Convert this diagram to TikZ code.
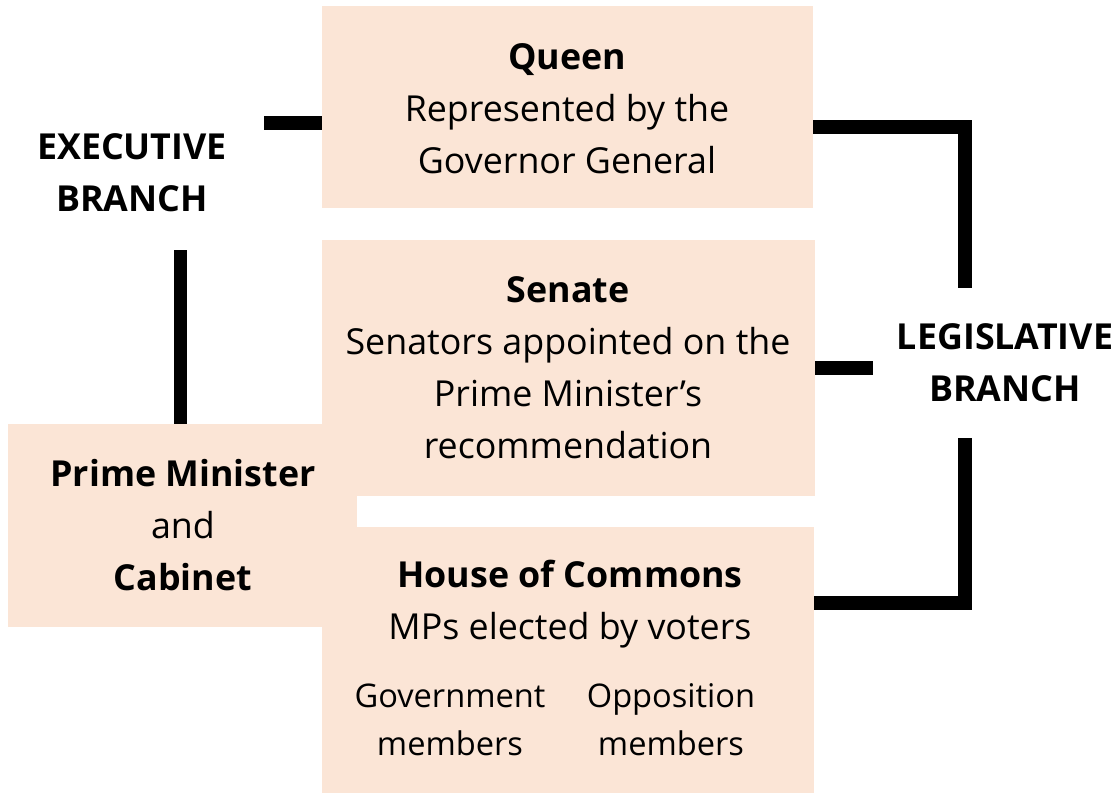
\documentclass[tikz,border=0pt]{standalone}
\usepackage{fontspec}
\setmainfont{Open Sans}
\usetikzlibrary{positioning,calc}
\definecolor{peach}{HTML}{FBE5D6}

\begin{document}
\begin{tikzpicture}[x=1pt,y=-1pt,
    panel/.style={shape=rectangle,fill=peach,draw=none,inner sep=0pt},
    txt/.style={align=center,anchor=base,inner sep=0pt,font=\fontsize{35.8}{52}\selectfont},
    small/.style={txt,font=\fontsize{32.6}{48}\selectfont},
    bar/.style={line width=13.5pt,line join=miter}]
  \useasboundingbox (0,0) rectangle (1120,795);

  \node[panel,minimum width=491,minimum height=202] (queen)  at (567.5,107) {};
  \node[panel,minimum width=493,minimum height=256] (senate) at (568.5,368) {};
  \node[panel,minimum width=492,minimum height=266] (house)  at (568,660)   {};
  \node[panel,minimum width=349,minimum height=203] (pm)     at (182.5,525.5) {};

  \node[txt] (queentxt)  at (567,173) {\textbf{Queen}\\Represented by the\\Governor General};
  \node[txt] (senatetxt) at (568,458) {\textbf{Senate}\\Senators appointed on the\\Prime Minister’s\\recommendation};
  \node[txt] (pmtxt)     at (183,590) {\textbf{Prime Minister}\\and\\\textbf{Cabinet}};
  \node[txt] (housetxt)  at (570,639) {\textbf{House of Commons}\\MPs elected by voters};
  \node[small] (gov) at (450,755) {Government\\members};
  \node[small] (opp) at (671,755) {Opposition\\members};
  \node[txt] (exec) at (132,211)  {\textbf{EXECUTIVE}\\\textbf{BRANCH}};
  \node[txt] (leg)  at (1005,401) {\textbf{LEGISLATIVE}\\\textbf{BRANCH}};

  \coordinate (execend) at (264,123);
  \coordinate (exectop) at (180.5,250);
  \coordinate (legtop)  at (965,288);
  \coordinate (legbot)  at (965,438);
  \coordinate (legmid)  at (873,368);

  \draw[bar] (execend) -- (execend -| queen.west);
  \draw[bar] (exectop) -- (exectop |- pm.north);
  \draw[bar] ($(queen.east)+(0,20)$) -| (legtop);
  \draw[bar] (senate.east) -- (legmid);
  \draw[bar] (legbot) |- ($(house.east)+(0,-57)$);
\end{tikzpicture}
\end{document}
